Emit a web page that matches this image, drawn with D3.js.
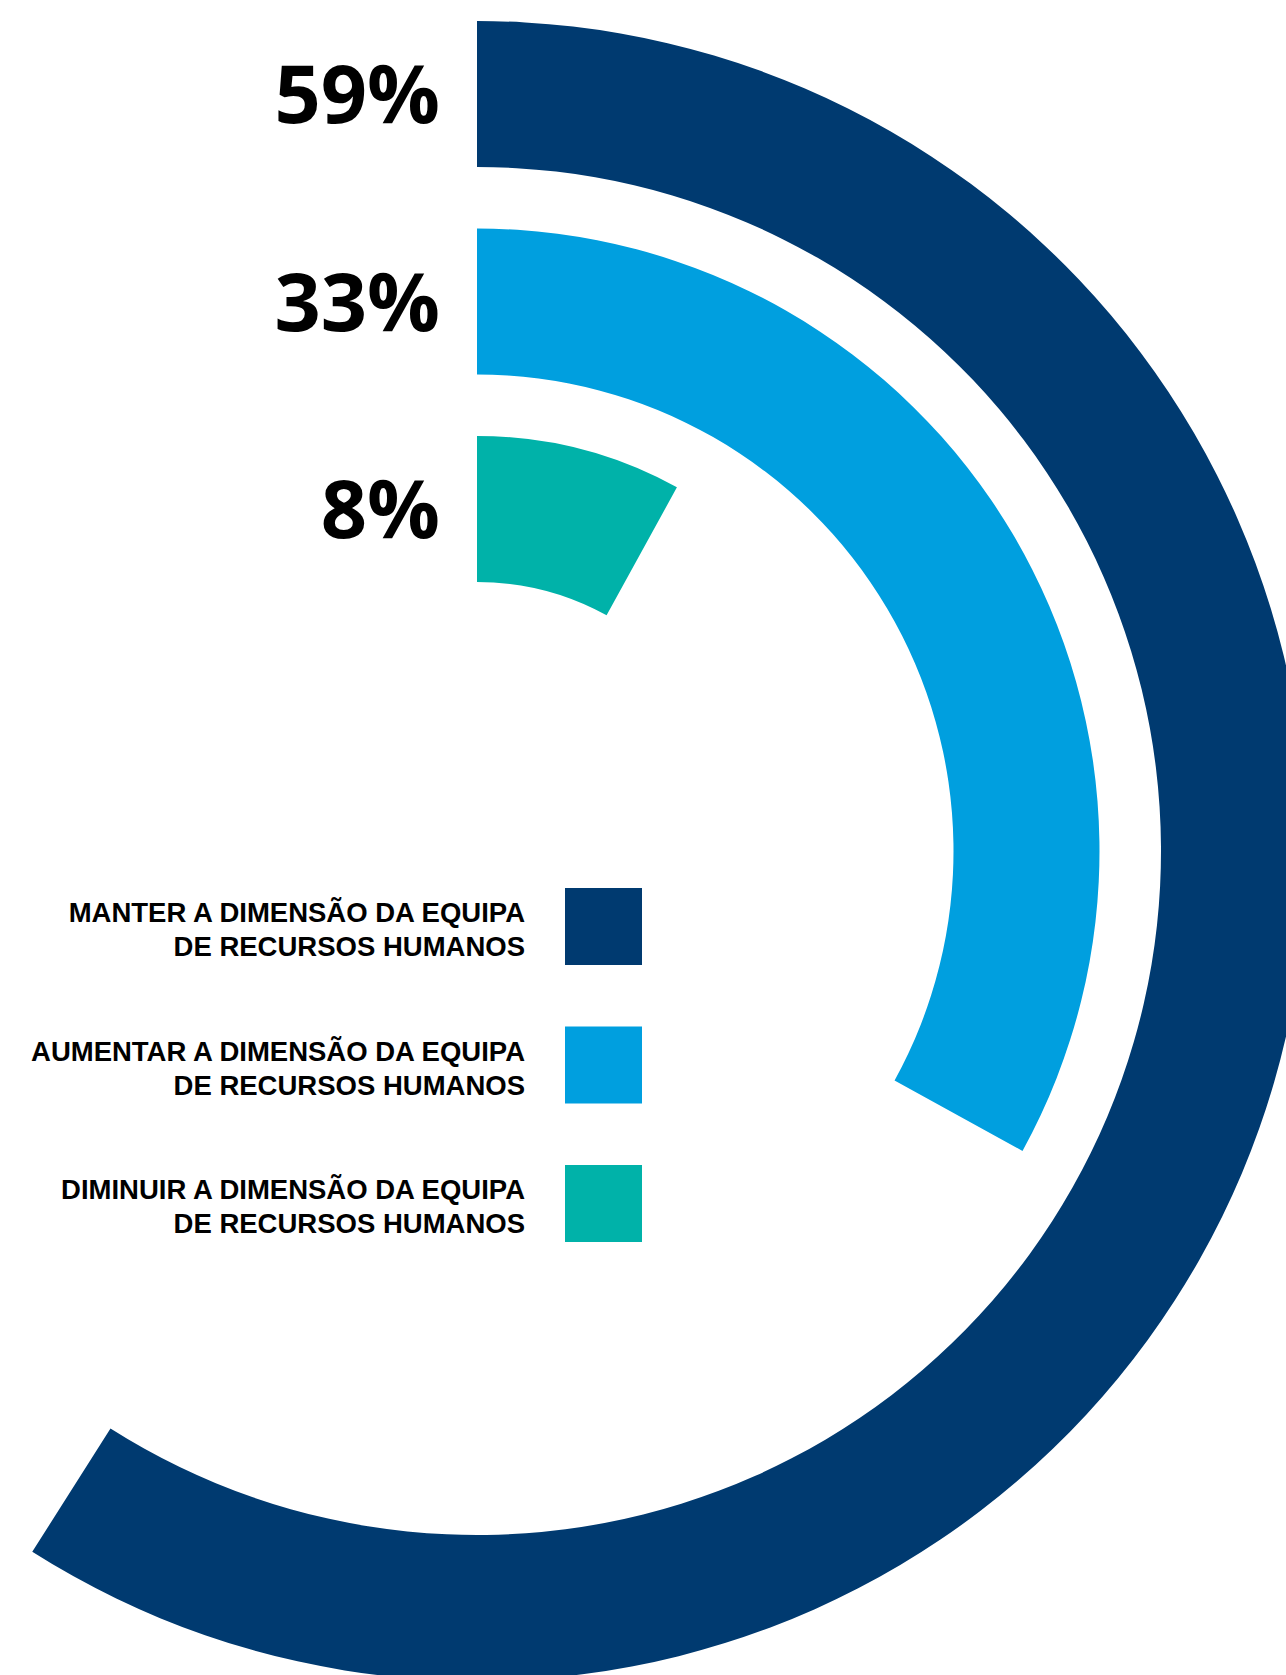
<!DOCTYPE html>
<html>
<head>
<meta charset="utf-8">
<script src="https://cdn.jsdelivr.net/npm/d3@7"></script>
<style>
  html, body { margin: 0; padding: 0; background: #ffffff; }
  svg { display: block; }
  text { font-weight: 700; fill: #000; }
  text.pct { font-family: "Open Sans", "Liberation Sans", sans-serif; }
  text.legend-line { font-family: "Liberation Sans", Arial, sans-serif; }
</style>
</head>
<body>
<svg id="chart" width="1286" height="1675"></svg>
<script>
// Survey answers: what will happen to the HR team size
const categories = ["manter", "aumentar", "diminuir"];
const values = [59, 33, 8];
const valueLabels = ["59%", "33%", "8%"];
const legendLines = [
  ["MANTER A DIMENSÃO DA EQUIPA", "DE RECURSOS HUMANOS"],
  ["AUMENTAR A DIMENSÃO DA EQUIPA", "DE RECURSOS HUMANOS"],
  ["DIMINUIR A DIMENSÃO DA EQUIPA", "DE RECURSOS HUMANOS"]
];
const colors = ["#003a70", "#009fdf", "#00b2a9"];

const cx = 477, cy = 851;

const svg = d3.select("#chart");

// Radial bands: outermost ring for the first category
const radius = d3.scaleBand()
  .domain(categories.slice().reverse())
  .range([269, 830])
  .paddingInner(0.2964)
  .paddingOuter(0);

const angle = d3.scaleLinear().domain([0, 100]).range([0, 2 * Math.PI]);

const color = d3.scaleOrdinal().domain(categories).range(colors);

const arc = d3.arc()
  .innerRadius(d => radius(d.cat))
  .outerRadius(d => radius(d.cat) + radius.bandwidth())
  .startAngle(0)
  .endAngle(d => angle(d.value));

const data = categories.map((c, i) => ({ cat: c, value: values[i], label: valueLabels[i], lines: legendLines[i] }));

const g = svg.append("g").attr("transform", `translate(${cx},${cy})`);

g.selectAll("path.ring")
  .data(data)
  .join("path")
  .attr("class", "ring")
  .attr("d", arc)
  .attr("fill", d => color(d.cat));

// Value labels at the start of each ring, centred on the band
const capPct = 29;
g.selectAll("text.pct")
  .data(data)
  .join("text")
  .attr("class", "pct")
  .attr("x", 440 - cx)
  .attr("y", d => -(radius(d.cat) + radius.bandwidth() / 2) + capPct)
  .attr("text-anchor", "end")
  .attr("font-size", 81)
  .text(d => d.label);

// Legend: two right-aligned lines next to a colour swatch
const legendY = d3.scalePoint().domain(categories).range([888, 1165]);
const sw = 77;
const rows = svg.append("g").selectAll("g.row")
  .data(data)
  .join("g")
  .attr("class", "row")
  .attr("transform", d => `translate(0,${legendY(d.cat)})`);

rows.append("rect")
  .attr("x", 565)
  .attr("y", 0)
  .attr("width", sw)
  .attr("height", sw)
  .attr("fill", d => color(d.cat));

rows.selectAll("text.legend-line")
  .data(d => d.lines)
  .join("text")
  .attr("class", "legend-line")
  .attr("text-anchor", "end")
  .attr("font-size", 27.5)
  .attr("x", 525)
  .attr("y", (d, i) => 34 + i * 34)
  .text(d => d);
</script>
</body>
</html>
